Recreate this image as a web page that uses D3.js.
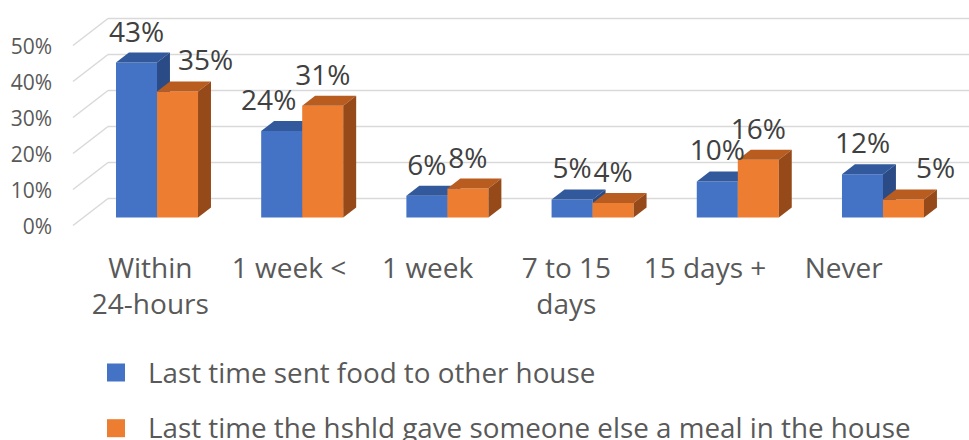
<!DOCTYPE html>
<html>
<head>
<meta charset="utf-8">
<script src="https://cdn.jsdelivr.net/npm/d3@7"></script>
<style>
  body { margin: 0; background: #fff; }
  svg { font-family: "Open Sans", sans-serif; }
</style>
</head>
<body>
<div id="chart"></div>
<script>
// values
var categories = ["Within 24-hours", "1 week <", "1 week", "7 to 15 days", "15 days +", "Never"];
var categoryLines = [["Within", "24-hours"], ["1 week <"], ["1 week"], ["7 to 15", "days"], ["15 days +"], ["Never"]];
var seriesNames = ["Last time sent food to other house", "Last time the hshld gave someone else a meal in the house"];
var sentFood = [43, 24, 6, 5, 10, 12];
var gaveMeal = [35, 31, 8, 4, 16, 5];
var yTicks = [0, 10, 20, 30, 40, 50];

// layout only: labels that were dragged sideways in the original
var labelNudge = {"0-1": 28, "1-0": -13, "5-1": 32};

function drawChart(placement, w, h) {
    var depthX = 35, depthY = 27, barFront = 0.3, barBack = 0.67;
    var front = ["#4472C4", "#ED7D31"],
        top = ["#32599C", "#B85C1F"],
        side = ["#2A4B86", "#964A1A"];

    var series = [sentFood, gaveMeal];

    var svg = d3.select(placement).append("svg")
        .attr("width", w).attr("height", h);

    var x0 = d3.scaleBand()
        .domain(categories)
        .range([73.9, 945.1])
        .paddingInner(0.435)
        .paddingOuter(0.2176);
    var x1 = d3.scaleBand()
        .domain([0, 1])
        .range([0, x0.bandwidth()]);
    var y = d3.scaleLinear()
        .domain([0, 50])
        .range([225.5, 45.5]);
    var xLab = d3.scaleBand()
        .domain(categories)
        .range([81, 913]);

    function pt(x, v, d) {
        return [x + depthX * d, y(v) - depthY * d];
    }

    // walls
    var grid = svg.append("g").attr("class", "grid")
        .attr("stroke", "#d9d9d9").attr("stroke-width", 1.5).attr("fill", "none");
    yTicks.forEach(function(t) {
        var a = pt(73, t, 0), b = pt(73, t, 1);
        grid.append("line").attr("x1", a[0]).attr("y1", a[1]).attr("x2", b[0]).attr("y2", b[1]);
        grid.append("line").attr("x1", b[0]).attr("y1", b[1]).attr("x2", w).attr("y2", b[1]);
    });

    svg.append("g")
        .attr("class", "y axis")
        .attr("transform", "translate(73,1)")
        .call(d3.axisLeft(y).tickValues(yTicks).tickSize(0).tickPadding(21)
            .tickFormat(function(d) { return d + "%"; }))
        .call(function(g) { g.select(".domain").remove(); })
        .selectAll("text")
        .attr("font-family", "Open Sans")
        .attr("font-size", "21px")
        .attr("fill", "#595959");

    // bars
    var bars = svg.append("g").attr("class", "bars");
    categories.forEach(function(c, i) {
        [0, 1].forEach(function(s) {
            var v = series[s][i];
            var xl = x0(c) + x1(s), xr = xl + x1.bandwidth();
            var g = bars.append("g");
            var f0 = pt(xl, 0, barFront), f1 = pt(xr, 0, barFront),
                f2 = pt(xr, v, barFront), f3 = pt(xl, v, barFront),
                b1 = pt(xr, 0, barBack), b2 = pt(xr, v, barBack), b3 = pt(xl, v, barBack);
            g.append("polygon").attr("points", [f0, f1, f2, f3].join(" ")).attr("fill", front[s]);
            g.append("polygon").attr("points", [f3, f2, b2, b3].join(" ")).attr("fill", top[s]);
            g.append("polygon").attr("points", [f1, b1, b2, f2].join(" ")).attr("fill", side[s]);
        });
    });

    // data labels
    var labels = svg.append("g").attr("class", "labels")
        .attr("font-size", "28px").attr("fill", "#404040").attr("text-anchor", "middle");
    categories.forEach(function(c, i) {
        [0, 1].forEach(function(s) {
            var v = series[s][i];
            var cx = x0(c) + x1(s) + x1.bandwidth() / 2;
            var p = pt(cx, v, barBack);
            labels.append("text")
                .attr("x", p[0] - depthX * (barBack - barFront) + (labelNudge[i + "-" + s] || 0))
                .attr("y", p[1] - 11)
                .text(v + "%");
        });
    });

    // category axis
    var xAxis = svg.append("g")
        .attr("class", "x axis")
        .attr("transform", "translate(0,278)")
        .call(d3.axisBottom(xLab).tickSize(0))
        .call(function(g) { g.select(".domain").remove(); });
    xAxis.selectAll("text")
        .attr("font-family", "Open Sans")
        .attr("font-size", "28px")
        .attr("fill", "#595959")
        .attr("y", 0).attr("dy", null)
        .text(null)
        .each(function(d, i) {
            var t = d3.select(this);
            categoryLines[i].forEach(function(line, k) {
                t.append("tspan").attr("x", 0).attr("y", k * 36).text(line);
            });
        });

    // legend
    var legend = svg.selectAll(".legend")
        .data(seriesNames)
        .enter().append("g")
        .attr("class", "legend")
        .attr("transform", function(d, i) { return "translate(0," + i * 55.7 + ")"; });
    legend.append("rect")
        .attr("x", 107).attr("y", 363.5)
        .attr("width", 18).attr("height", 18)
        .attr("fill", function(d, i) { return front[i]; });
    legend.append("text")
        .attr("x", 148).attr("y", 382.7)
        .attr("font-size", "27.8px")
        .attr("fill", "#595959")
        .text(function(d) { return d; });
}

drawChart("#chart", 969, 440);
</script>
</body>
</html>
